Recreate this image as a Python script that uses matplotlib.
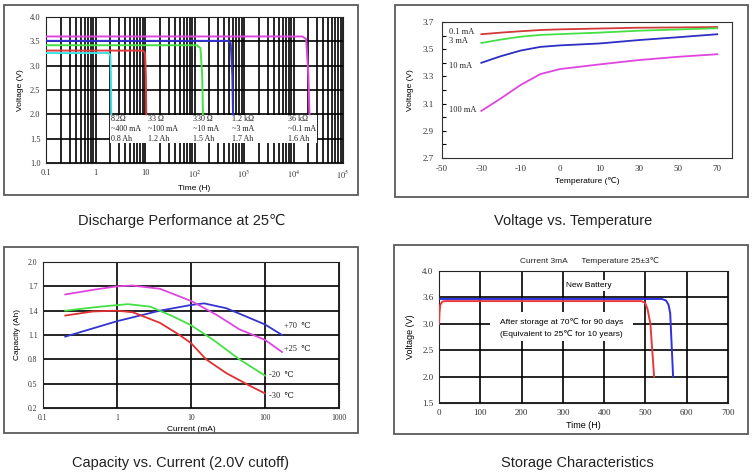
import numpy as np
import matplotlib
matplotlib.use('Agg')
import matplotlib.pyplot as plt
from matplotlib.patches import Rectangle
from matplotlib.ticker import LogLocator, NullLocator, FixedLocator, NullFormatter

plt.rcParams['font.family'] = ['Liberation Sans', 'DejaVu Sans']
plt.rcParams['mathtext.fontset'] = 'stix'

SERIF = ['Liberation Serif', 'DejaVu Serif']
SANS = ['Liberation Sans', 'DejaVu Sans']

# ---------------- Panel 1: Discharge performance ----------------
d_cyan_t = [0.1, 1.85, 2.0, 2.05, 2.08]
d_cyan_v = [3.26, 3.26, 3.21, 2.8, 2.0]
d_red_t = [0.1, 9.0, 10.0, 10.4, 10.6]
d_red_v = [3.31, 3.31, 3.26, 2.8, 2.0]
d_green_t = [0.1, 112, 132, 143, 148]
d_green_v = [3.42, 3.42, 3.36, 2.8, 2.0]
d_blue_t = [0.1, 480, 540, 580, 600]
d_blue_v = [3.51, 3.51, 3.46, 2.8, 2.0]
d_mag_t = [0.1, 15000, 18000, 20000, 21000]
d_mag_v = [3.60, 3.60, 3.55, 2.8, 2.0]
d_loads = ['8.2\u03a9', '33 \u03a9', '330 \u03a9', '1.2 k\u03a9', '36 k\u03a9']
d_currents = ['~400 mA', '~100 mA', '~10 mA', '~3 mA', '~0.1 mA']
d_caps = ['0.8 Ah', '1.2 Ah', '1.5 Ah', '1.7 Ah', '1.6 Ah']
d_xticks = [0.1, 1, 10, 100, 1000, 1e4, 1e5]
d_xticklabels = ['0.1', '1', '10', r'$10^2$', r'$10^3$', r'$10^4$', r'$10^5$']
d_yticks = [1.0, 1.5, 2.0, 2.5, 3.0, 3.5, 4.0]

# ---------------- Panel 2: Voltage vs temperature ----------------
vt_temps = [-30, -20, -10, -5, 0, 10, 30, 50, 70]
vt_01 = [3.610, 3.622, 3.632, 3.641, 3.646, 3.652, 3.658, 3.660, 3.663]
vt_3 = [3.546, 3.571, 3.592, 3.605, 3.611, 3.622, 3.636, 3.645, 3.654]
vt_10 = [3.400, 3.449, 3.490, 3.517, 3.528, 3.542, 3.567, 3.588, 3.610]
vt_100 = [3.046, 3.139, 3.237, 3.317, 3.354, 3.388, 3.420, 3.444, 3.463]
vt_names = ['0.1 mA', '3 mA', '10 mA', '100 mA']
vt_xticks = [-50, -30, -10, 0, 10, 30, 50, 70]
vt_yticks = [2.7, 2.9, 3.1, 3.3, 3.5, 3.7]

# ---------------- Panel 3: Capacity vs current ----------------
cc_p70_i = [0.2, 1, 3.8, 10, 15, 30, 62, 100, 170]
cc_p70_c = [1.08, 1.27, 1.40, 1.47, 1.49, 1.43, 1.31, 1.23, 1.10]
cc_p25_i = [0.2, 0.5, 1, 1.6, 3.8, 10, 22, 45, 100, 170]
cc_p25_c = [1.60, 1.66, 1.70, 1.71, 1.67, 1.52, 1.35, 1.17, 1.04, 0.89]
cc_m20_i = [0.2, 0.6, 1.4, 2.8, 5.7, 10, 20, 45, 100]
cc_m20_c = [1.40, 1.45, 1.48, 1.45, 1.33, 1.22, 1.04, 0.80, 0.60]
cc_m30_i = [0.2, 0.47, 1, 1.64, 3.8, 7, 10, 16, 30, 62, 100]
cc_m30_c = [1.34, 1.39, 1.40, 1.38, 1.25, 1.10, 1.00, 0.80, 0.63, 0.475, 0.38]
cc_names = ['+70  \u2103', '+25  \u2103', '-20  \u2103', '-30  \u2103']
cc_xticks = [0.1, 1, 10, 100, 1000]
cc_xticklabels = ['0.1', '1', '10', '100', '1000']
cc_yticks = [0.2, 0.5, 0.8, 1.1, 1.4, 1.7, 2.0]

# ---------------- Panel 4: Storage ----------------
st_new_t = [0, 540, 550, 556, 560, 567]
st_new_v = [3.47, 3.47, 3.44, 3.36, 3.2, 2.0]
st_old_t = [0, 1, 3, 8, 15, 490, 499, 505, 512, 521]
st_old_v = [3.0, 3.2, 3.36, 3.42, 3.43, 3.43, 3.40, 3.28, 3.0, 2.0]
st_xticks = [0, 100, 200, 300, 400, 500, 600, 700]
st_yticks = [1.5, 2.0, 2.5, 3.0, 3.5, 4.0]
st_yticklabels = ['1.5', '2.0', '2.5', '3.0', '3.6', '4.0']

titles = ['Discharge Performance at 25\u2103', 'Voltage vs. Temperature',
          'Capacity vs. Current (2.0V cutoff)', 'Storage Characteristics']

W, H = 755, 475
fig = plt.figure(figsize=(7.55, 4.75), dpi=100)
fig.patch.set_facecolor('white')


def px_axes(l, t, r, b):
    return fig.add_axes([l / W, 1 - b / H, (r - l) / W, (b - t) / H])


def frame(l, t, r, b):
    fig.patches.append(Rectangle((l / W, 1 - b / H), (r - l) / W, (b - t) / H,
                                 transform=fig.transFigure, fill=False,
                                 edgecolor='#5a5a5a', lw=1.3))


def serif_ticks(ax, size):
    for lab in ax.get_xticklabels() + ax.get_yticklabels():
        lab.set_fontfamily(SERIF)
        lab.set_fontsize(size)
        lab.set_color('#333333')


GRID = dict(color='black', lw=1.2)

# ---- Panel 1 ----
frame(4, 5, 358, 195)
ax1 = px_axes(46, 17, 343, 163)
ax1.set_xscale('log')
ax1.set_xlim(0.1, 1e5)
ax1.set_ylim(1.0, 4.0)
ax1.xaxis.set_minor_locator(LogLocator(base=10, subs=range(2, 10), numticks=20))
ax1.xaxis.set_minor_formatter(NullFormatter())
ax1.set_xticks(d_xticks)
ax1.set_xticklabels(d_xticklabels)
ax1.set_yticks(d_yticks)
ax1.set_yticklabels(['%.1f' % v for v in d_yticks])
ax1.set_axisbelow(True)
ax1.grid(True, which='both', axis='x', **GRID)
ax1.grid(True, which='major', axis='y', **GRID)
ax1.tick_params(which='both', length=0, pad=4)
serif_ticks(ax1, 6)
ax1.add_patch(Rectangle((2.0, 1.41), 3.0e4 - 2.0, 0.57, facecolor='white',
                        edgecolor='none', zorder=1.5))
for t, v, c in [(d_cyan_t, d_cyan_v, '#3fe3ea'), (d_red_t, d_red_v, '#e23a3a'),
                (d_green_t, d_green_v, '#45e045'), (d_blue_t, d_blue_v, '#3434d6'),
                (d_mag_t, d_mag_v, '#e045e0')]:
    ax1.plot(t, v, color=c, lw=1.4, zorder=3)
lab_x = [2.08, 11.5, 93, 560, 7800]
for x, a, b, c in zip(lab_x, d_loads, d_currents, d_caps):
    for y, s in zip([1.90, 1.70, 1.50], [a, b, c]):
        ax1.text(x, y, s, fontsize=5.8, family=SERIF, va='center', ha='left',
                 color='#222222', zorder=4)
for s in ax1.spines.values():
    s.set_color('#222222')
ax1.set_xlabel('Time (H)', fontsize=6, labelpad=3)
ax1.set_ylabel('Voltage (V)', fontsize=6, labelpad=4)

# ---- Panel 2 ----
frame(395, 5, 748, 197)
ax2 = px_axes(442, 22, 732, 158)
node_t = [-50, -30, -10, 0, 10, 30, 50, 70, 90]
node_p = [0, 1, 2, 3, 4, 5, 6, 7, 8]


def fwd(t):
    return np.interp(t, node_t, node_p)


def inv(p):
    return np.interp(p, node_p, node_t)


ax2.set_xscale('function', functions=(fwd, inv))
ax2.set_xlim(-50, 77.5)
ax2.set_ylim(2.7, 3.7)
ax2.set_xticks(vt_xticks)
ax2.set_xticklabels([str(v) for v in vt_xticks])
ax2.set_yticks(vt_yticks)
ax2.set_yticklabels(['%.1f' % v for v in vt_yticks])
ax2.yaxis.set_minor_locator(FixedLocator([2.8, 3.0, 3.2, 3.4, 3.6]))
ax2.xaxis.set_minor_locator(NullLocator())
ax2.tick_params(axis='y', which='both', direction='in', length=3, width=0.8, pad=6)
ax2.tick_params(axis='x', which='both', length=0, pad=5)
serif_ticks(ax2, 6.5)
for v, c in [(vt_01, '#d23a3a'), (vt_3, '#45e045'), (vt_10, '#2e2ec4'), (vt_100, '#e045e0')]:
    ax2.plot(vt_temps, v, color=c, lw=1.3)
for name, y in zip(vt_names, [3.630, 3.562, 3.378, 3.056]):
    ax2.text(-46.5, y, name, fontsize=6, family=SERIF, va='center', ha='left', color='#222222')
for s in ax2.spines.values():
    s.set_color('#333333')
ax2.set_xlabel('Temperature (\u2103)', fontsize=6, labelpad=3)
ax2.set_ylabel('Voltage (V)', fontsize=6, labelpad=6)

# ---- Panel 3 ----
frame(4, 247, 358, 433)
ax3 = px_axes(43, 262, 339, 408)
ax3.set_xscale('log')
ax3.set_xlim(0.1, 1000)
ax3.set_ylim(0.2, 2.0)
ax3.set_xticks(cc_xticks)
ax3.set_xticklabels(cc_xticklabels)
ax3.xaxis.set_minor_locator(NullLocator())
ax3.set_yticks(cc_yticks)
ax3.set_yticklabels(['%.1f' % v for v in cc_yticks])
ax3.set_axisbelow(True)
ax3.grid(True, which='major', **GRID)
ax3.tick_params(which='both', length=0, pad=4)
serif_ticks(ax3, 5.5)
for i, c, col in [(cc_p70_i, cc_p70_c, '#3434d0'), (cc_p25_i, cc_p25_c, '#e045e0'),
                  (cc_m20_i, cc_m20_c, '#45e045'), (cc_m30_i, cc_m30_c, '#e03030')]:
    ax3.plot(i, c, color=col, lw=1.3)
for name, x, y in zip(cc_names, [180, 182, 113, 113], [1.215, 0.927, 0.611, 0.352]):
    ax3.text(x, y, name, fontsize=6, family=SERIF + ['DejaVu Sans'], va='center',
             ha='left', color='#222222')
for s in ax3.spines.values():
    s.set_color('#222222')
ax3.set_xlabel('Current (mA)', fontsize=6, labelpad=3)
ax3.set_ylabel('Capacity (Ah)', fontsize=6, labelpad=5)

# ---- Panel 4 ----
frame(394, 245, 748, 434)
ax4 = px_axes(439, 271, 728, 403)
ax4.set_xlim(0, 700)
ax4.set_ylim(1.5, 4.0)
ax4.set_xticks(st_xticks)
ax4.set_xticklabels([str(v) for v in st_xticks])
ax4.set_yticks(st_yticks)
ax4.set_yticklabels(st_yticklabels)
ax4.set_axisbelow(True)
ax4.grid(True, which='major', **GRID)
ax4.tick_params(which='both', length=0, pad=4)
serif_ticks(ax4, 6.5)
ax4.add_patch(Rectangle((123, 2.68), 347, 0.55, facecolor='white', edgecolor='none', zorder=1.5))
ax4.plot(st_new_t, st_new_v, color='#3030e0', lw=1.4, zorder=3)
ax4.plot(st_old_t, st_old_v, color='#e83a3a', lw=1.4, zorder=3)
ax4.text(363, 3.73, 'New Battery', fontsize=6, ha='center', va='center',
         bbox=dict(facecolor='white', edgecolor='none', pad=1.5), zorder=4)
ax4.text(296, 3.04, 'After storage at 70\u2103 for 90 days', fontsize=6, ha='center',
         va='center', zorder=4)
ax4.text(296, 2.80, '(Equivalent to 25\u2103 for 10 years)', fontsize=6, ha='center',
         va='center', zorder=4)
for s in ax4.spines.values():
    s.set_color('#222222')
ax4.set_xlabel('Time (H)', fontsize=6.5, labelpad=3)
ax4.set_ylabel('Voltage (V)', fontsize=6.5, labelpad=5)
fig.text(590 / W, 1 - 261 / H, 'Current 3mA      Temperature 25\u00b13\u2103',
         fontsize=6, ha='center', va='center', color='#222222')

# ---- Panel titles ----
for (x, y), t in zip([(182, 225), (573, 225), (180, 467), (577, 467)], titles):
    fig.text(x / W, 1 - y / H, t, fontsize=10.5, family=SANS, ha='center',
             va='baseline', color='#222222')

fig.savefig('out.png', dpi=100)
